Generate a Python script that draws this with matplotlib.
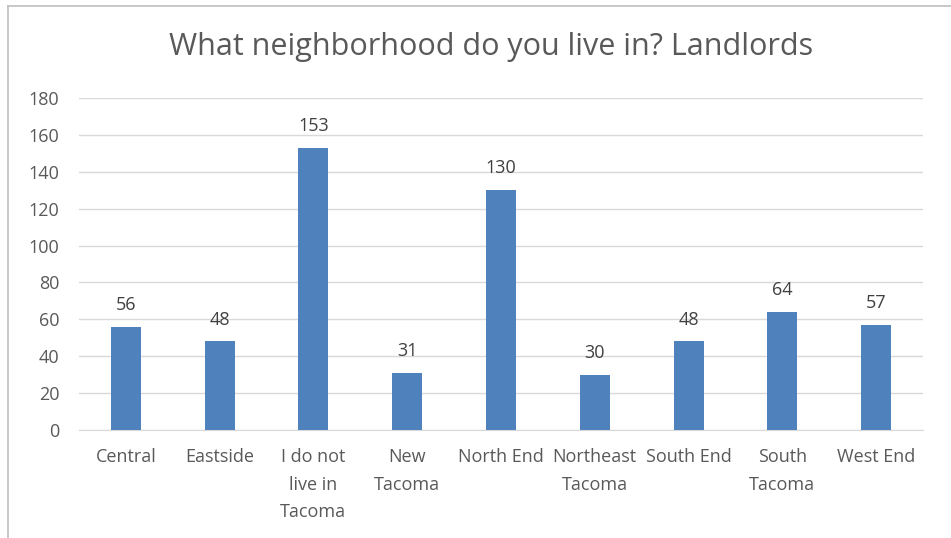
import matplotlib.pyplot as plt
from matplotlib.lines import Line2D

# values
categories = ["Central", "Eastside", "I do not\nlive in\nTacoma", "New\nTacoma",
              "North End", "Northeast\nTacoma", "South End", "South\nTacoma", "West End"]
counts = [56, 48, 153, 31, 130, 30, 48, 64, 57]
yticks = [0, 20, 40, 60, 80, 100, 120, 140, 160, 180]

text_col = "#595959"
plt.rcParams['font.family'] = ['Open Sans', 'DejaVu Sans']

fig = plt.figure(figsize=(9.51, 5.38), dpi=100)
ax = fig.add_axes([0.083, 0.2007, 0.8876, 0.6171])

x = range(len(categories))
bars = ax.bar(x, counts, width=0.32, color="#4f81bd", zorder=3)
for b, v in zip(bars, counts):
    ax.text(b.get_x() + b.get_width() / 2, v + 7, str(v), ha="center", va="bottom",
            fontsize=13, color="#404040")

ax.set_xlim(-0.5, len(categories) - 0.5)
ax.set_ylim(0, 180)
ax.set_yticks(yticks)
ax.grid(axis="y", color="#d9d9d9", linewidth=1, zorder=0)
ax.set_xticks(list(x))
ax.set_xticklabels(categories, fontsize=13, color=text_col, linespacing=1.68, va="top")
ax.tick_params(axis="y", labelsize=13, labelcolor=text_col, length=0, pad=14)
ax.tick_params(axis="x", length=0, pad=13)
for s in ["top", "right", "left"]:
    ax.spines[s].set_visible(False)
ax.spines["bottom"].set_color("#d9d9d9")

fig.text(0.516, 0.913, "What neighborhood do you live in? Landlords", ha="center", va="center",
         fontsize=22, color=text_col)

# chart frame, cut off at right and bottom like the screenshot
fig.add_artist(Line2D([8 / 951, 8 / 951], [0, 1 - 6 / 538], color="#bfbfbf", linewidth=1.2))
fig.add_artist(Line2D([8 / 951, 1], [1 - 6 / 538, 1 - 6 / 538], color="#bfbfbf", linewidth=1.2))

fig.savefig("out.png", dpi=100)
